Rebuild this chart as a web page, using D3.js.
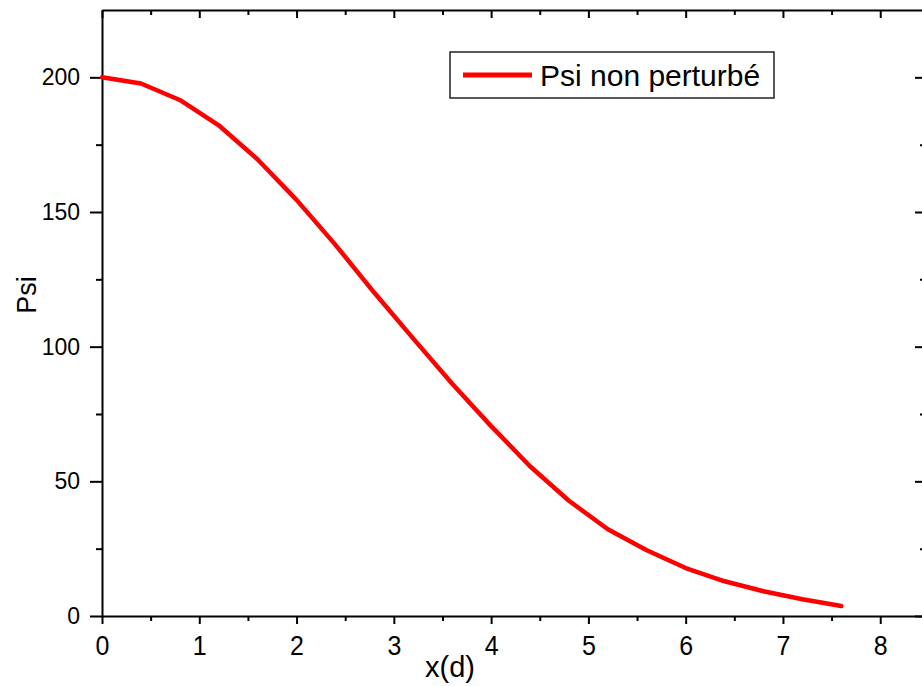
<!DOCTYPE html>
<html>
<head>
<meta charset="utf-8">
<script src="https://cdn.jsdelivr.net/npm/d3@7"></script>
<style>
  body { margin: 0; background: #fff; }
  svg { display: block; font-family: Arial, "Liberation Sans", sans-serif; }
</style>
</head>
<body>
<svg id="chart"></svg>
<script>
// values
const xValues = [0, 0.4, 0.8, 1.2, 1.6, 2.0, 2.4, 2.8, 3.2, 3.6, 4.0, 4.4, 4.8, 5.2, 5.6, 6.0, 6.4, 6.8, 7.2, 7.6];
const psiValues = [200, 197.7, 191.6, 182.2, 169.5, 154.5, 137.8, 120, 103, 86.2, 70.5, 55.6, 42.8, 32.2, 24.4, 17.8, 12.9, 9.2, 6.2, 3.7];
const xTicks = [0, 1, 2, 3, 4, 5, 6, 7, 8];
const xMinorTicks = [0.5, 1.5, 2.5, 3.5, 4.5, 5.5, 6.5, 7.5];
const yTicks = [0, 50, 100, 150, 200];
const yMinorTicks = [25, 75, 125, 175];
const seriesName = "Psi non perturbé";

const W = 922, H = 686;
const plotLeft = 102, plotRight = 924, plotTop = 10, plotBottom = 616;

const svg = d3.select("#chart").attr("width", W).attr("height", H);

const x = d3.scaleLinear().domain([0, 8.45]).range([plotLeft, plotRight]);
const y = d3.scaleLinear().domain([0, 225]).range([plotBottom, plotTop]);

function styleAxis(g) {
    g.selectAll("path.domain").attr("stroke", "#000").attr("stroke-width", 2);
    g.selectAll(".tick line").attr("stroke", "#000").attr("stroke-width", 2);
}

// bottom axis
const bottomAxis = svg.append("g")
    .attr("transform", `translate(0,${plotBottom})`)
    .call(d3.axisBottom(x).tickValues(xTicks).tickSize(8).tickSizeOuter(0).tickFormat(d3.format("d")));
bottomAxis.selectAll("text")
    .attr("y", null).attr("dy", null)
    .attr("transform", "translate(0,39) scale(1,1.12)")
    .style("font-size", "25px").attr("fill", "#000");
styleAxis(bottomAxis);
svg.append("g")
    .attr("transform", `translate(0,${plotBottom})`)
    .call(d3.axisBottom(x).tickValues(xMinorTicks).tickSize(5).tickFormat(""))
    .call(g => g.select(".domain").remove())
    .call(styleAxis);

// top axis, ticks inward
const topAxis = svg.append("g")
    .attr("transform", `translate(0,${plotTop})`)
    .call(d3.axisBottom(x).tickValues(xTicks).tickSize(8).tickSizeOuter(0).tickFormat(""));
styleAxis(topAxis);
svg.append("g")
    .attr("transform", `translate(0,${plotTop})`)
    .call(d3.axisBottom(x).tickValues(xMinorTicks).tickSize(5).tickFormat(""))
    .call(g => g.select(".domain").remove())
    .call(styleAxis);

// left axis
const leftAxis = svg.append("g")
    .attr("transform", `translate(${plotLeft},0)`)
    .call(d3.axisLeft(y).tickValues(yTicks).tickSize(12).tickPadding(10).tickSizeOuter(0));
leftAxis.selectAll("text").style("font-size", "23px").attr("fill", "#000");
styleAxis(leftAxis);
svg.append("g")
    .attr("transform", `translate(${plotLeft},0)`)
    .call(d3.axisLeft(y).tickValues(yMinorTicks).tickSize(6).tickFormat(""))
    .call(g => g.select(".domain").remove())
    .call(styleAxis);

// right axis, ticks inward
const rightAxis = svg.append("g")
    .attr("transform", `translate(${plotRight},0)`)
    .call(d3.axisLeft(y).tickValues(yTicks).tickSize(9).tickSizeOuter(0).tickFormat(""));
styleAxis(rightAxis);
svg.append("g")
    .attr("transform", `translate(${plotRight},0)`)
    .call(d3.axisLeft(y).tickValues(yMinorTicks).tickSize(4).tickFormat(""))
    .call(g => g.select(".domain").remove())
    .call(styleAxis);

// the curve
const line = d3.line()
    .x((d, i) => x(xValues[i]))
    .y(d => y(d));

svg.append("path")
    .datum(psiValues)
    .attr("d", line)
    .attr("fill", "none")
    .attr("stroke", "#f00")
    .attr("stroke-width", 4.5)
    .attr("stroke-linejoin", "round")
    .attr("stroke-linecap", "round");

// axis titles
svg.append("text")
    .attr("x", 450)
    .attr("y", 677)
    .attr("text-anchor", "middle")
    .style("font-size", "29px")
    .text("x(d)");

svg.append("text")
    .attr("transform", "translate(36,295) rotate(-90)")
    .attr("text-anchor", "middle")
    .style("font-size", "27px")
    .text("Psi");

// legend
const legend = svg.append("g");
legend.append("rect")
    .attr("x", 450).attr("y", 52)
    .attr("width", 324).attr("height", 46)
    .attr("fill", "#fff")
    .attr("stroke", "#222")
    .attr("stroke-width", 1.5);
legend.append("line")
    .attr("x1", 463).attr("x2", 532)
    .attr("y1", 75).attr("y2", 75)
    .attr("stroke", "#f00")
    .attr("stroke-width", 5);
legend.append("text")
    .attr("x", 540).attr("y", 86)
    .style("font-size", "30px")
    .text(seriesName);
</script>
</body>
</html>
